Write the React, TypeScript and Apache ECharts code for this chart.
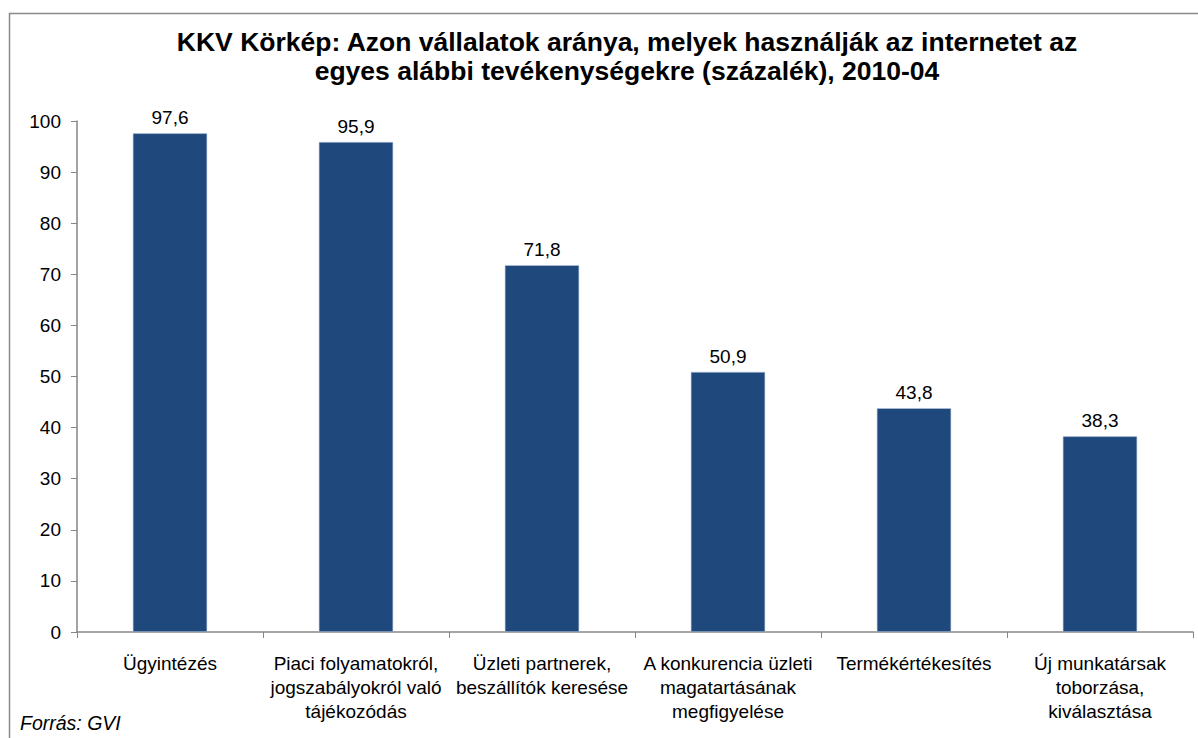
import React, { useEffect, useRef } from "react";
import * as echarts from "echarts";

const titleLines = [
  "KKV Körkép: Azon vállalatok aránya, melyek használják az internetet az",
  "egyes alábbi tevékenységekre (százalék), 2010-04",
];
const categories = [
  "Ügyintézés",
  "Piaci folyamatokról,\njogszabályokról való\ntájékozódás",
  "Üzleti partnerek,\nbeszállítók keresése",
  "A konkurencia üzleti\nmagatartásának\nmegfigyelése",
  "Termékértékesítés",
  "Új munkatársak\ntoborzása,\nkiválasztása",
];
const values = [97.6, 95.9, 71.8, 50.9, 43.8, 38.3];
const yMin = 0;
const yMax = 100;
const yStep = 10;
const sourceNote = "Forrás: GVI";

export default function App() {
  const ref = useRef<HTMLDivElement>(null);
  useEffect(() => {
    if (!ref.current) return;
    const chart = echarts.init(ref.current, null, { renderer: "svg" });
    const font = "'Liberation Sans', Arial, sans-serif";
    chart.setOption({
      animation: false,
      backgroundColor: "#ffffff",
      textStyle: { fontFamily: font },
      title: {
        text: titleLines.join("\n"),
        left: 622,
        top: 22,
        textAlign: "center",
        textStyle: {
          fontFamily: font,
          fontSize: 26.5,
          fontWeight: "bold",
          color: "#000",
          lineHeight: 29,
        },
      },
      graphic: [
        {
          type: "rect",
          shape: { x: 9.5, y: 13.5, width: 1200, height: 740 },
          style: { fill: "none", stroke: "#8a8a8a", lineWidth: 1.5 },
          silent: true,
          z: -1,
        },
        {
          type: "text",
          x: 20,
          y: 713,
          style: {
            text: sourceNote,
            fontFamily: font,
            fontSize: 19.5,
            fontStyle: "italic",
            fill: "#000",
          },
        },
      ],
      grid: { left: 77, right: 5, top: 121, bottom: 106 },
      xAxis: {
        type: "category",
        data: categories,
        axisLine: { lineStyle: { color: "#868686", width: 1.5 } },
        axisTick: { show: true, length: 6, lineStyle: { color: "#868686" } },
        axisLabel: {
          interval: 0,
          color: "#000",
          fontSize: 19,
          fontFamily: font,
          lineHeight: 24,
          margin: 19,
        },
      },
      yAxis: {
        type: "value",
        min: yMin,
        max: yMax,
        interval: yStep,
        splitLine: { show: false },
        axisLine: { show: true, lineStyle: { color: "#868686", width: 1.5 } },
        axisTick: { show: true, length: 6, lineStyle: { color: "#868686" } },
        axisLabel: { color: "#000", fontSize: 19, fontFamily: font, margin: 16 },
      },
      series: [
        {
          type: "bar",
          data: values,
          barWidth: "40%",
          itemStyle: { color: "#1F497D", borderColor: "#b8c9df", borderWidth: 0.6 },
          label: {
            show: true,
            position: "top",
            distance: 6,
            color: "#000",
            fontSize: 19,
            fontFamily: font,
            formatter: (p: any) => String(p.value).replace(".", ","),
          },
        },
      ],
    });
    return () => chart.dispose();
  }, []);
  return (
    <div
      ref={ref}
      style={{ position: "fixed", left: 0, top: 0, width: 1198, height: 738 }}
    />
  );
}
